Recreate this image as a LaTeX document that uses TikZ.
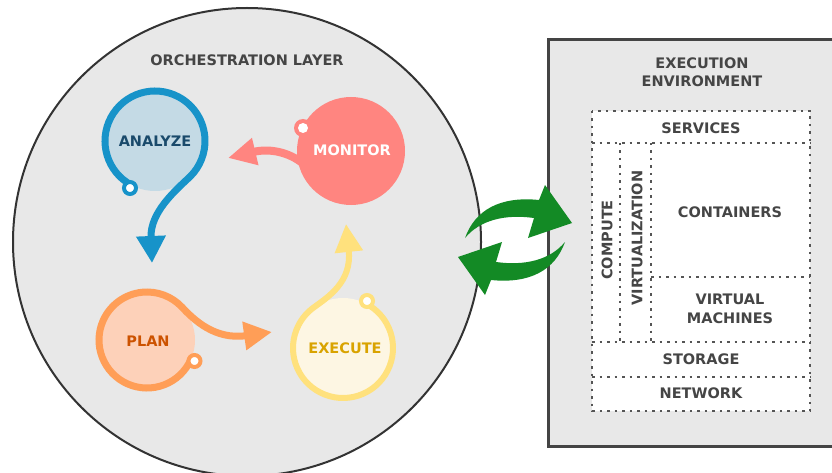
\documentclass[tikz,border=0pt]{standalone}
\usepackage{fontspec}
\setmainfont{DejaVu Sans}
\usetikzlibrary{arrows.meta}
\definecolor{bggray}{HTML}{E8E8E8}
\definecolor{circline}{HTML}{333333}
\definecolor{boxline}{HTML}{444444}
\definecolor{txtgray}{HTML}{454545}
\definecolor{dotgray}{HTML}{555555}
\definecolor{anastroke}{HTML}{1793C9}
\definecolor{anafill}{HTML}{C4DAE5}
\definecolor{anatext}{HTML}{1A4A6B}
\definecolor{salmon}{HTML}{FF8580}
\definecolor{planstroke}{HTML}{FF9E57}
\definecolor{planfill}{HTML}{FDD1B9}
\definecolor{plantext}{HTML}{CC5200}
\definecolor{exestroke}{HTML}{FFE17D}
\definecolor{exefill}{HTML}{FDF6E3}
\definecolor{exetext}{HTML}{D9A300}
\definecolor{grn}{HTML}{138A25}
\begin{document}
\begin{tikzpicture}[x=1pt,y=-1pt,
  lbl/.style={font=\fontsize{14.5}{18.5}\selectfont\bfseries, text=txtgray, align=center, inner sep=0pt},
  dots/.style={draw=dotgray, line width=1.3, dash pattern=on 2.5pt off 5pt},
  ring/.style={line width=4, draw=#1, fill=white}]
\useasboundingbox (0,0) rectangle (832,473);
\clip (0,0) rectangle (832,473);
\fill[white] (0,0) rectangle (832,473);
% orchestration layer
\draw[line width=2, draw=circline, fill=bggray] (247,242) circle[radius=234];
\node[lbl] (orch) at (247,60) {ORCHESTRATION LAYER};
% analyze
\fill[anafill] (155,141) circle[radius=50];
\draw[line width=7, anastroke, -{Triangle[width=28pt,length=27pt]}]
  ([shift={(118:50)}]155,141) arc[start angle=118, end angle=405, radius=50]
  .. controls (176,190) and (150,212) .. (152,263);
\draw[ring=anastroke] (130,188) circle[radius=6];
\node[lbl, text=anatext] (analyze) at (155,141) {ANALYZE};
% monitor
\fill[salmon] (351,151) circle[radius=54];
\fill[salmon] (303,128) circle[radius=9];
\fill[white] (303,128) circle[radius=5];
\draw[line width=8, salmon, -{Triangle[width=26pt,length=28pt]}]
  (308,168) .. controls (292,152) and (270,148) .. (228,158);
\node[lbl, text=white] (monitor) at (352,150) {MONITOR};
% plan
\fill[planfill] (147,340) circle[radius=48];
\draw[line width=7, planstroke, -{Triangle[width=27pt,length=28pt]}]
  ([shift={(24:48)}]147,340) arc[start angle=24, end angle=317, radius=48]
  .. controls (194,320) and (215,340) .. (272,332);
\draw[ring=planstroke] (194.5,361) circle[radius=6];
\node[lbl, text=plantext] (plan) at (148,341) {PLAN};
% execute
\fill[exefill] (343,348) circle[radius=50];
\draw[line width=6, exestroke, -{Triangle[width=27pt,length=28pt]}]
  ([shift={(297:50)}]343,348) arc[start angle=297, end angle=595, radius=50]
  .. controls (328,297) and (352,282) .. (346,224);
\draw[ring=exestroke] (367,301) circle[radius=6];
\node[lbl, text=exetext] (execute) at (345,348) {EXECUTE};
% execution environment
\draw[line width=3, draw=boxline, fill=bggray] (548,40) rectangle (850,446);
\node[lbl] (env) at (702,72) {EXECUTION\\ENVIRONMENT};
\fill[white] (592,111) rectangle (810,411);
\draw[dots] (592,111) rectangle (810,411);
\draw[dots] (592,143) -- (810,143);
\draw[dots] (620,143) -- (620,342);
\draw[dots] (651,143) -- (651,342);
\draw[dots] (651,277) -- (810,277);
\draw[dots] (592,342) -- (810,342);
\draw[dots] (592,377) -- (810,377);
\node[lbl] (services) at (701,128) {SERVICES};
\node[lbl, rotate=90] (compute) at (607,240) {COMPUTE};
\node[lbl, rotate=90] (virt) at (637,238) {VIRTUALIZATION};
\node[lbl] (containers) at (730,212) {CONTAINERS};
\node[lbl] (vm) at (730,309) {VIRTUAL\\MACHINES};
\node[lbl] (storage) at (701,359) {STORAGE};
\node[lbl] (network) at (701,393) {NETWORK};
% exchange arrows
\fill[grn, shift={(515,240)}] (-50,-2) .. controls (-40,-30) and (-15,-44) .. (24,-40)
  -- (30,-55) -- (57,-17) -- (13,-2) -- (19,-22) .. controls (-10,-26) and (-35,-20) .. cycle;
\fill[grn, shift={(515,240)}, rotate=180] (-50,-2) .. controls (-40,-30) and (-15,-44) .. (24,-40)
  -- (30,-55) -- (57,-17) -- (13,-2) -- (19,-22) .. controls (-10,-26) and (-35,-20) .. cycle;
\end{tikzpicture}
\end{document}
